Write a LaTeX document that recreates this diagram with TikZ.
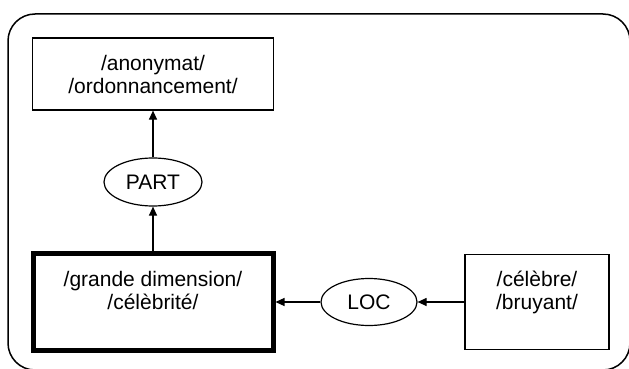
\documentclass[tikz,border=0pt]{standalone}
\usepackage{fontspec}
\setmainfont{Liberation Sans}
\usepackage{tikz}
\usetikzlibrary{arrows.meta,positioning}
\usetikzlibrary{calc,fit,shapes,backgrounds}

\begin{document}
\begin{tikzpicture}[x=1pt,y=-1pt]
\tikzset{
     label box/.style={draw, line width=1.2pt, align=center, inner sep=0pt},
     relation/.style={ellipse, draw, line width=1.2pt, inner sep=0pt},
     link/.style={line width=1.2pt, -{Triangle[length=9pt,width=8pt]}}}
\fontsize{21}{23}\selectfont

\useasboundingbox (0,0) rectangle (629,369);

% The frame
\draw [line width=1.5pt, rounded corners=27pt] (8,14) rectangle (630,370);

% The boxes
\node (topbox)   [label box, minimum width=241pt, minimum height=72pt] at (153,74) {/anonymat/\\/ordonnancement/};
\node (mainbox)  [label box, line width=5pt, minimum width=240pt, minimum height=97pt] at (153,302) {/grande dimension/\\/célèbrité/\\~};
\node (rightbox) [label box, minimum width=144pt, minimum height=95pt] at (537,302) {/célèbre/\\/bruyant/\\~};

% The relations
\node (partellipse) [relation, minimum width=98pt, minimum height=48pt] at (153,182) {PART};
\node (locellipse)  [relation, minimum width=96pt, minimum height=47pt] at (369,302) {LOC};

% The arrows
\draw [link] (partellipse) -- (topbox);
\draw [link] (mainbox) -- (partellipse);
\draw [link] (rightbox) -- (locellipse);
\draw [link] (locellipse) -- (mainbox);
\end{tikzpicture}
\end{document}
